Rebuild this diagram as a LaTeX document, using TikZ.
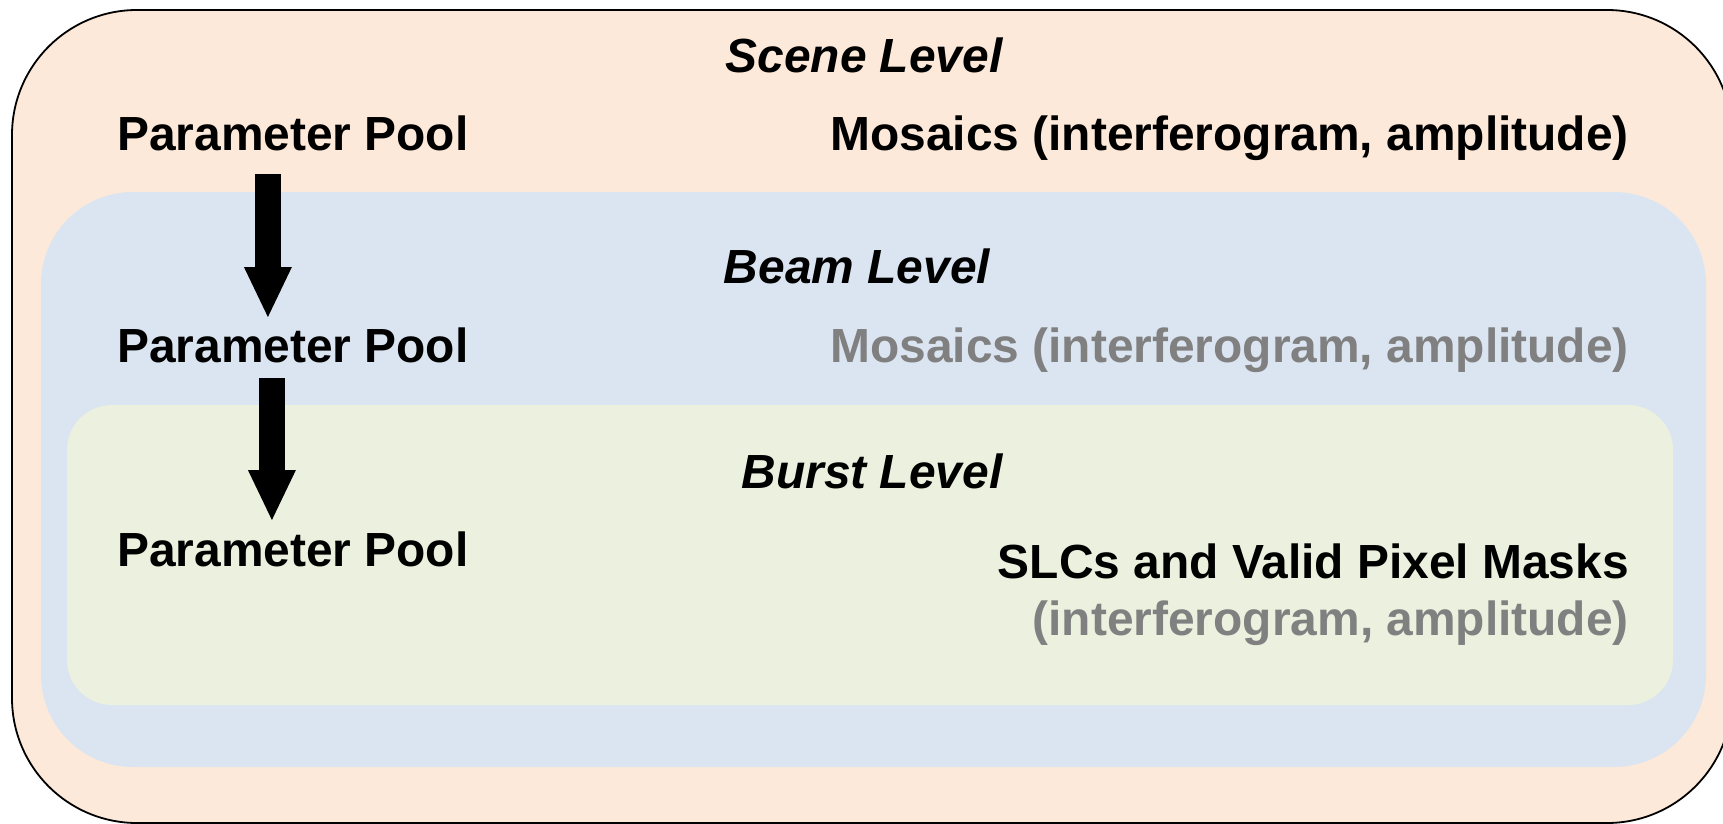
\documentclass[tikz,border=0pt]{standalone}
\usepackage{fontspec}
\setmainfont{Liberation Sans}
\usetikzlibrary{arrows.meta}
\definecolor{scenefill}{HTML}{FDE9D9}
\definecolor{beamfill}{HTML}{DBE5F1}
\definecolor{burstfill}{HTML}{EBF1DE}
\definecolor{dimtext}{HTML}{808080}
\begin{document}
\begin{tikzpicture}[x=1pt,y=-1pt,
  lbl/.style={inner sep=0pt, font=\fontsize{47.9}{57}\selectfont\bfseries},
  leveltitle/.style={inner sep=0pt, anchor=base, font=\fontsize{47.9}{57}\selectfont\bfseries\itshape},
  pool/.style={lbl, anchor=base west},
  product/.style={lbl, anchor=base east},
  faded/.style={text=dimtext},
  flow/.style={line width=26pt, -{Triangle[width=48pt,length=50pt,line width=0pt]}}
]
\useasboundingbox (0,0) rectangle (1723,824);
\clip (0,0) rectangle (1723,824);

% nested level containers
\draw[line width=1.8pt, fill=scenefill, rounded corners=125pt] (12,10) rectangle (1732,823);
\fill[beamfill, rounded corners=92pt] (41,192) rectangle (1706,767);
\fill[burstfill, rounded corners=45pt] (67,405) rectangle (1673,705);

% scene level
\node[leveltitle] (scenetitle) at (864,73) {Scene Level};
\node[pool] (pp1) at (117,150) {Parameter Pool};
\node[product] (mos1) at (1629,150) {Mosaics (interferogram, amplitude)};

% beam level
\node[leveltitle] (beamtitle) at (857,283) {Beam Level};
\node[pool] (pp2) at (117,362) {Parameter Pool};
\node[product, faded] (mos2) at (1629,362) {Mosaics (interferogram, amplitude)};

% burst level
\node[leveltitle] (bursttitle) at (872,488) {Burst Level};
\node[pool] (pp3) at (117,566) {Parameter Pool};
\node[product] (slc) at (1629,578) {SLCs and Valid Pixel Masks};
\node[product, faded] (slcsub) at (1629,635) {(interferogram, amplitude)};

% parameter inheritance
\draw[flow] ([shift={(-25,24)}]pp1.base) -- ([shift={(-25,-45)}]pp2.base);
\draw[flow] ([shift={(-21,16)}]pp2.base) -- ([shift={(-21,-46)}]pp3.base);
\end{tikzpicture}
\end{document}
